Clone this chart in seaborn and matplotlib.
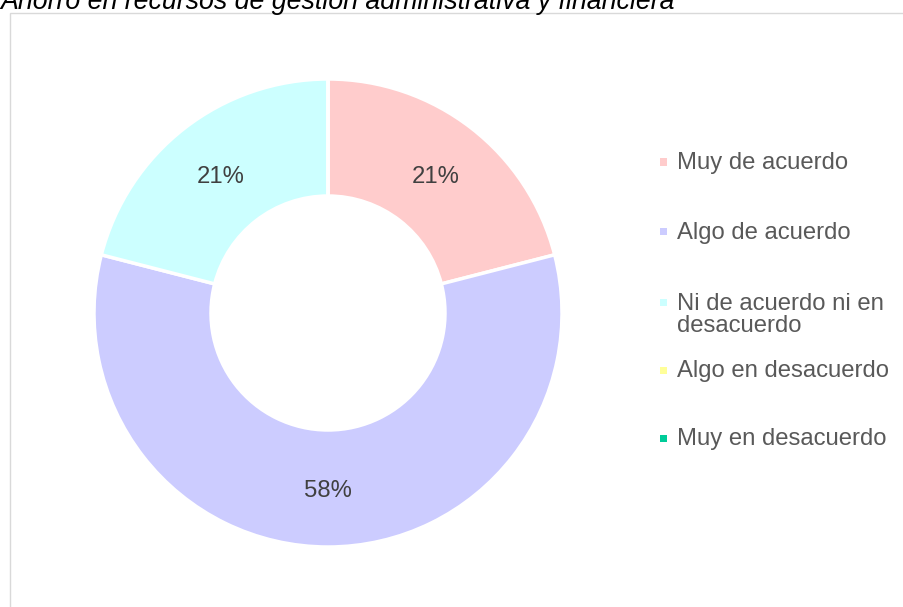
import matplotlib
matplotlib.use("Agg")
import matplotlib.pyplot as plt
from matplotlib.patches import Rectangle
import seaborn as sns

categories = ["Muy de acuerdo", "Algo de acuerdo", "Ni de acuerdo ni en\ndesacuerdo",
              "Algo en desacuerdo", "Muy en desacuerdo"]
values = [21, 58, 21, 0, 0]
colors = ["#FFCCCC", "#CCCCFF", "#CCFFFF", "#FFFF99", "#00CC99"]
title = "Ahorro en recursos de gestión administrativa y financiera"

sns.set_theme(style="white")
plt.rcParams["font.family"] = ["Liberation Sans", "DejaVu Sans"]

W, H = 904, 607
fig = plt.figure(figsize=(W / 100, H / 100), dpi=100)

# frame
fig.add_artist(Rectangle((9.5 / W, -0.1), 2.0, 1 - 12.5 / H + 0.1, transform=fig.transFigure,
                         fill=False, edgecolor="#D9D9D9", linewidth=1))

fig.text(0.0, 1 - 9 / H, title, fontsize=19.3, style="italic", color="#000000",
         ha="left", va="baseline")

cx, cy, r = 328, 313, 234
ax = fig.add_axes([(cx - r) / W, (H - cy - r) / H, 2 * r / W, 2 * r / H])

def pct(p):
    return f"{p:.0f}%" if p > 0.5 else ""

wedges, texts, autotexts = ax.pie(values, colors=colors, startangle=90, counterclock=False,
                                  autopct=pct, pctdistance=0.75,
                                  wedgeprops=dict(width=0.5, edgecolor="white", linewidth=2.5),
                                  textprops=dict(fontsize=17.2, color="#404040"))
for t in autotexts:
    t.set_va("center_baseline")
ax.set_xlim(-1, 1)
ax.set_ylim(-1, 1)
ax.set_aspect("equal")
ax.axis("off")

# legend
ys = [163, 233, 314.5, 371, 439]
for lab, col, y in zip(categories, colors, ys):
    my = 302 if "\n" in lab else y - 1
    fig.add_artist(Rectangle((660 / W, 1 - (my + 3.5) / H), 7 / W, 7 / H,
                             transform=fig.transFigure, facecolor=col, edgecolor="none"))
    fig.text(677 / W, 1 - y / H, lab, fontsize=17.2, color="#595959",
             ha="left", va="center", linespacing=1.0)

fig.savefig("out.png", dpi=100)
